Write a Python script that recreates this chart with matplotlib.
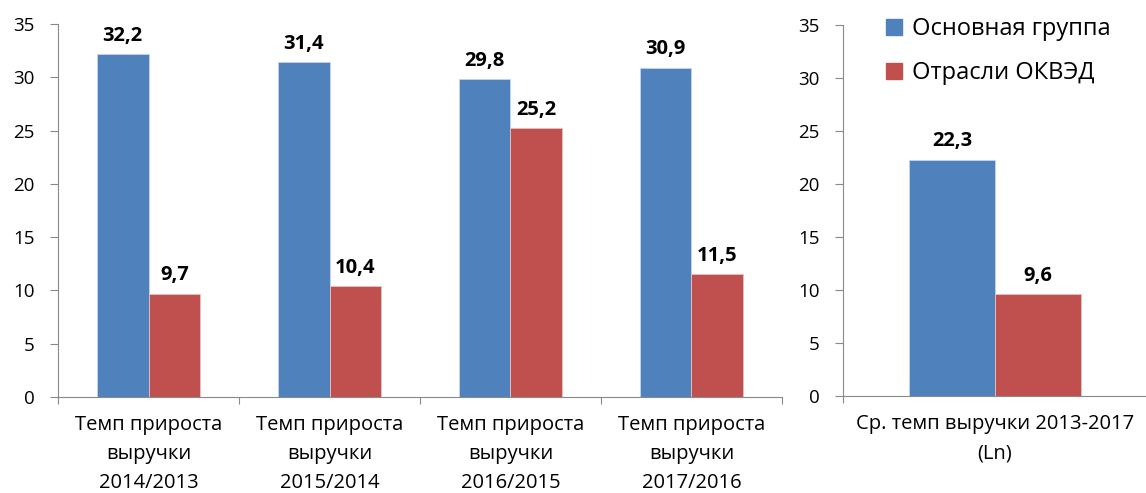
import matplotlib.pyplot as plt
from matplotlib.patches import Patch

categories = ["Темп прироста\nвыручки\n2014/2013", "Темп прироста\nвыручки\n2015/2014",
              "Темп прироста\nвыручки\n2016/2015", "Темп прироста\nвыручки\n2017/2016"]
main_group = [32.2, 31.4, 29.8, 30.9]
okved = [9.7, 10.4, 25.2, 11.5]

avg_category = ["Ср. темп выручки 2013-2017\n(Ln)"]
avg_main = [22.3]
avg_okved = [9.6]

series_names = ["Основная группа", "Отрасли ОКВЭД"]
blue = "#4F81BD"
red = "#C0504D"
axis_gray = "#898989"

plt.rcParams['font.family'] = ['Open Sans', 'DejaVu Sans']

fig = plt.figure(figsize=(11.46, 4.93), dpi=100)
ax1 = fig.add_axes([58 / 1146, 96 / 493, 724 / 1146, 373 / 493])
ax2 = fig.add_axes([843 / 1146, 97 / 493, 304 / 1146, 371 / 493])


def fmt(v):
    return f"{v:.1f}".replace(".", ",")


def draw(ax, labels, a, b, w):
    x = list(range(len(labels)))
    bars_a = ax.bar([i - w / 2 for i in x], a, width=w, color=blue, edgecolor="#C5D4EA", linewidth=0.6)
    bars_b = ax.bar([i + w / 2 for i in x], b, width=w, color=red, edgecolor="#E6C3C2", linewidth=0.6)
    for bars in (bars_a, bars_b):
        for r in bars:
            ax.annotate(fmt(r.get_height()), (r.get_x() + r.get_width() / 2, r.get_height()),
                        xytext=(0, 6), textcoords="offset points", ha="center", va="bottom",
                        fontsize=14.5, fontweight="bold")
    ax.set_xlim(-0.5, len(labels) - 0.5)
    ax.set_ylim(0, 35)
    ax.set_yticks(range(0, 36, 5))
    ax.set_xticks([i - 0.5 for i in range(len(labels) + 1)])
    ax.set_xticklabels([])
    ax.set_xticks(x, minor=True)
    ax.set_xticklabels(labels, minor=True, fontsize=14.5, linespacing=1.6)
    ax.tick_params(axis="x", which="major", length=5, color=axis_gray, width=0.8)
    ax.tick_params(axis="x", which="minor", length=0, pad=13)
    ax.tick_params(axis="y", length=6, color=axis_gray, width=0.8, labelsize=13.5, pad=11)
    for s in ("top", "right"):
        ax.spines[s].set_visible(False)
    for s in ("left", "bottom"):
        ax.spines[s].set_color(axis_gray)
        ax.spines[s].set_linewidth(0.8)


draw(ax1, categories, main_group, okved, 0.287)
draw(ax2, avg_category, avg_main, avg_okved, 0.283)

handles = [Patch(color=blue), Patch(color=red)]
fig.legend(handles, series_names, loc="upper left", bbox_to_anchor=(872 / 1146, 0.994),
           frameon=False, fontsize=17, handlelength=0.65, handleheight=0.65,
           handletextpad=0.45, labelspacing=0.85, borderaxespad=0.2)

fig.savefig("out.png", dpi=100)
